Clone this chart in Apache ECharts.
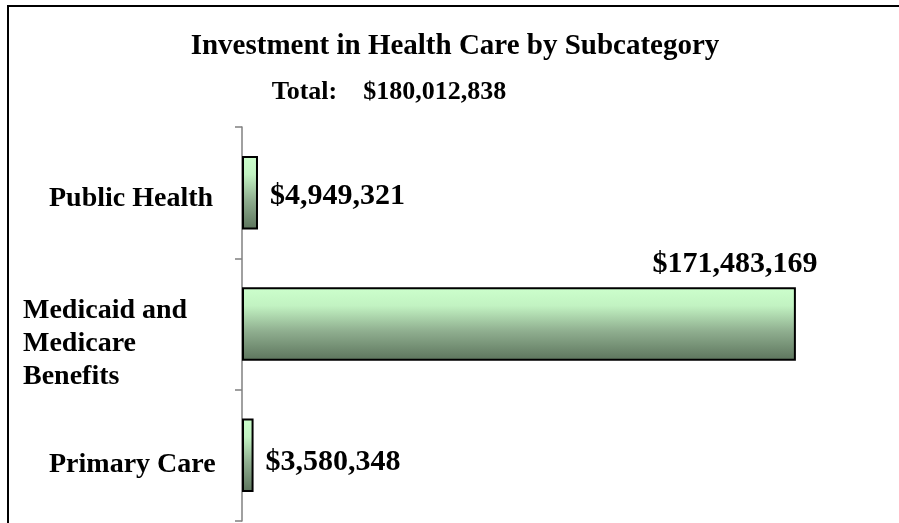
<!DOCTYPE html>
<html>
<head>
<meta charset="utf-8">
<script src="https://cdn.jsdelivr.net/npm/echarts@6/dist/echarts.min.js"></script>
<style>
  html, body { margin: 0; padding: 0; background: #fff; }
  #chart { width: 899px; height: 523px; }
</style>
</head>
<body>
<div id="chart"></div>
<script>
  // categories, top to bottom
  var categories = ['Public Health', 'Medicaid and\nMedicare\nBenefits', 'Primary Care'];
  // investment per subcategory (dollars)
  var amounts = [4949321, 171483169, 3580348];
  var totalText = 'Total:    $180,012,838';
  var titleText = 'Investment in Health Care by Subcategory';

  var serif = '"Liberation Serif", "DejaVu Serif", serif';

  function money(v) {
    return '$' + v.toString().replace(/\B(?=(\d{3})+(?!\d))/g, ',');
  }

  var barFill = new echarts.graphic.LinearGradient(0, 0, 0, 1, [
    { offset: 0, color: '#ccffcc' },
    { offset: 0.25, color: '#c2f3c2' },
    { offset: 0.6, color: '#8fae8f' },
    { offset: 1, color: '#5c745c' }
  ]);

  // labels sit a little below the band centre in the original
  var spacer = ['s1', 's3', 's2'];

  var myChart = echarts.init(document.getElementById('chart'));

  var option = {
    animation: false,
    title: [{
      text: titleText,
      left: 450,
      top: 27,
      textAlign: 'center',
      textStyle: { fontFamily: serif, fontWeight: 'bold', fontSize: 29, color: '#000' }
    }, {
      text: totalText,
      left: 384,
      top: 74,
      textAlign: 'center',
      textStyle: { fontFamily: serif, fontWeight: 'bold', fontSize: 26, color: '#000', whiteSpace: 'pre' }
    }],
    graphic: [{
      type: 'rect',
      shape: { x: 8, y: 6, width: 900, height: 530 },
      style: { fill: 'none', stroke: '#000', lineWidth: 2 },
      silent: true
    }],
    grid: {
      left: 242,
      right: 11,
      top: 127,
      bottom: 2,
      outerBoundsMode: 'none',
      containLabel: false
    },
    xAxis: {
      type: 'value',
      min: 0,
      max: 200000000,
      show: false
    },
    yAxis: {
      type: 'category',
      inverse: true,
      data: [
        { value: categories[0], textStyle: { align: 'left', padding: [0, 0, 0, 26] } },
        { value: categories[1], textStyle: { align: 'left' } },
        { value: categories[2], textStyle: { align: 'left', padding: [0, 0, 0, 26] } }
      ],
      axisLine: { show: true, lineStyle: { color: '#808080', width: 1.5 } },
      axisTick: { show: true, length: 7, lineStyle: { color: '#808080', width: 1.5 } },
      axisLabel: {
        margin: 219,
        fontFamily: serif,
        fontWeight: 'bold',
        fontSize: 28,
        lineHeight: 33,
        color: '#000',
        formatter: function (v, i) {
          var lines = v.split('\n').map(function (s) { return '{t|' + s + '}'; });
          return '{' + spacer[i] + '| }\n' + lines.join('\n');
        },
        rich: {
          t: { fontFamily: serif, fontWeight: 'bold', fontSize: 28, lineHeight: 33, color: '#000' },
          s1: { fontSize: 8, lineHeight: 12 },
          s2: { fontSize: 8, lineHeight: 18 },
          s3: { fontSize: 8, lineHeight: 40 }
        }
      }
    },
    series: [{
      type: 'bar',
      data: [
        { value: amounts[0], label: { offset: [0, 4] } },
        {
          value: amounts[1],
          label: { position: ['89%', -8], align: 'center', verticalAlign: 'bottom' }
        },
        { value: amounts[2], label: { offset: [0, 7] } }
      ],
      barCategoryGap: '44%',
      itemStyle: {
        color: barFill,
        borderColor: '#000',
        borderWidth: 2
      },
      label: {
        show: true,
        position: 'right',
        distance: 12,
        fontFamily: serif,
        fontWeight: 'bold',
        fontSize: 30,
        color: '#000',
        formatter: function (p) { return money(p.value); }
      }
    }]
  };

  myChart.setOption(option);
</script>
</body>
</html>
